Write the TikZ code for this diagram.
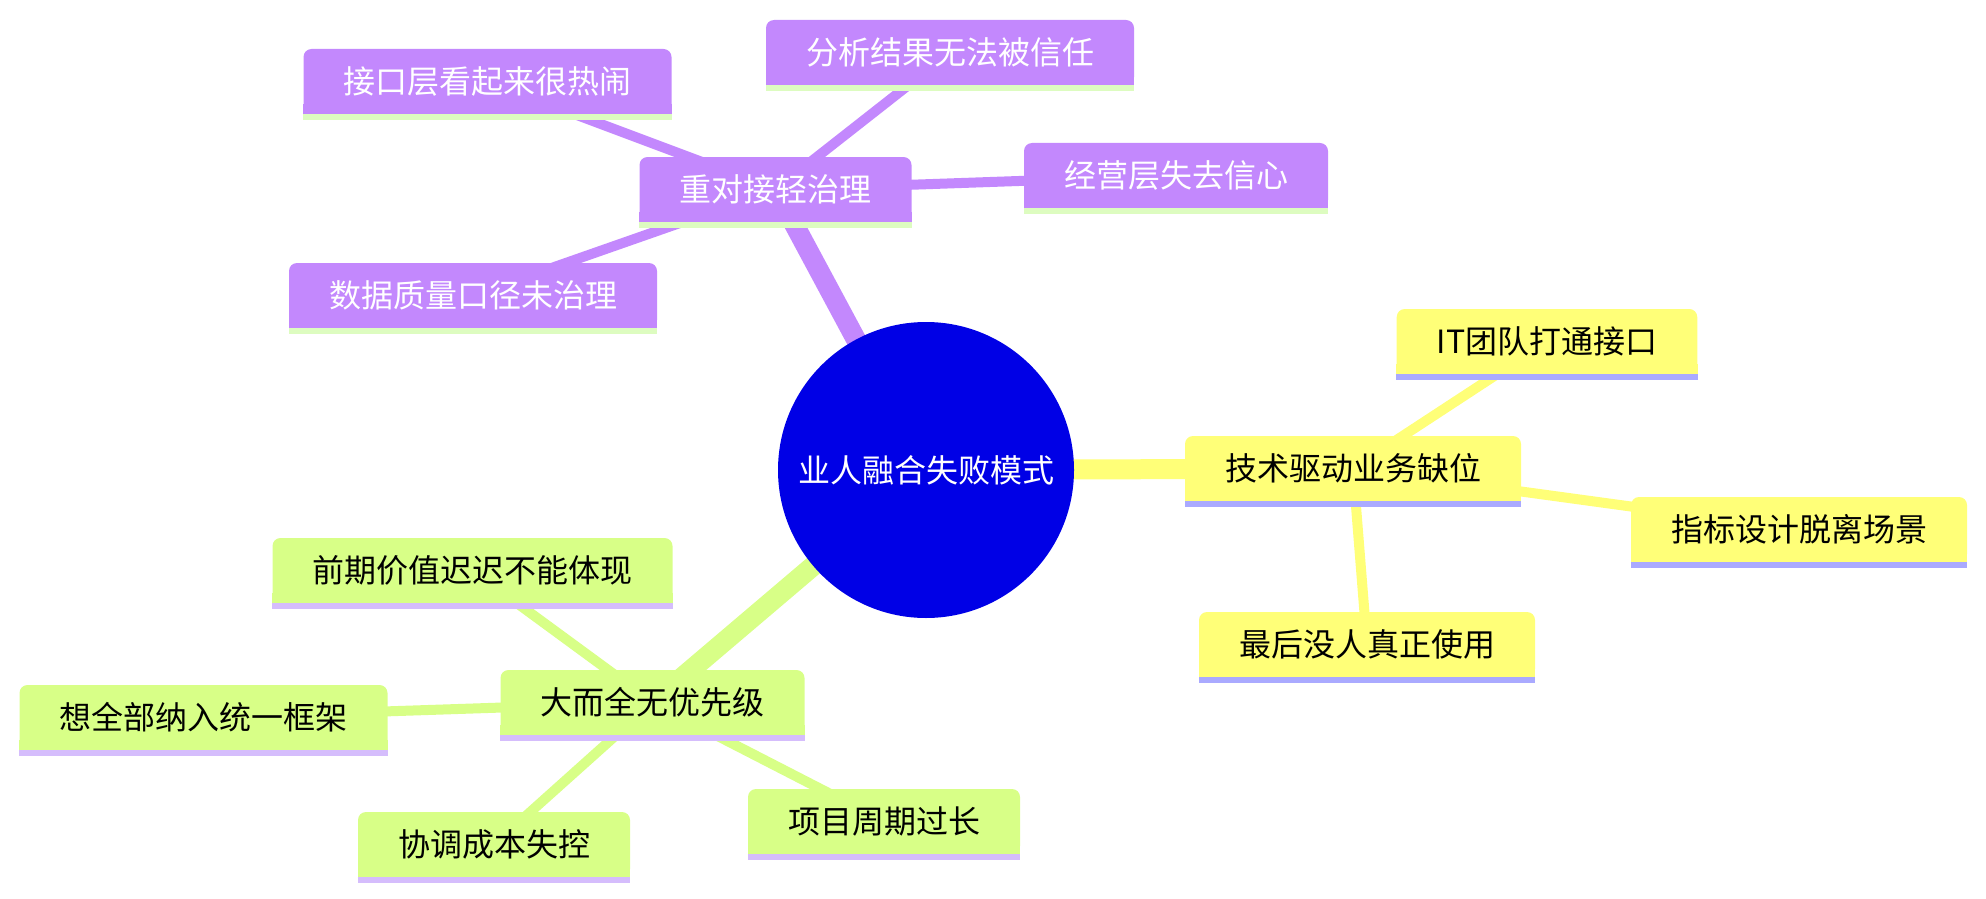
\documentclass[tikz,border=0pt]{standalone}
\usepackage{fontspec}
\setmainfont{Noto Sans CJK SC}
\usetikzlibrary{backgrounds}
\definecolor{purp}{RGB}{195,136,253}
\definecolor{purpul}{RGB}{221,252,192}
\definecolor{yel}{RGB}{255,255,120}
\definecolor{yelul}{RGB}{170,170,255}
\definecolor{grn}{RGB}{216,255,135}
\definecolor{grnul}{RGB}{213,189,252}
\definecolor{ctr}{RGB}{0,0,230}
\newcommand\nbar[3]{%
  \fill[#2] ([yshift=5pt]#1.south west) rectangle (#1.south east);
  \fill[#3] (#1.south west) rectangle ([yshift=-3pt]#1.south east);}
\begin{document}
\begin{tikzpicture}[x=0.5pt,y=-0.5pt,
  box/.style={rectangle, rounded corners=4pt, minimum height=32.5pt, inner xsep=20pt, inner ysep=0pt,
    font=\fontsize{16pt}{19pt}\selectfont},
  pbox/.style={box, fill=purp, text=white},
  ybox/.style={box, fill=yel, text=black},
  gbox/.style={box, fill=grn, text=black},
  mainedge/.style={line width=10pt},
  subedge/.style={line width=5pt}]
\useasboundingbox (0,0) rectangle (1986,899);

\node[circle, fill=ctr, text=white, minimum size=148pt, inner sep=0pt,
  font=\fontsize{16pt}{19pt}\selectfont] (C) at (926,470) {业人融合失败模式};

\node[pbox] (P0) at (775.5,189.5) {重对接轻治理};
\node[pbox] (P1) at (487.5,81.5) {接口层看起来很热闹};
\node[pbox] (P2) at (950,52.5) {分析结果无法被信任};
\node[pbox] (P3) at (1176,175.5) {经营层失去信心};
\node[pbox] (P4) at (473,295.5) {数据质量口径未治理};

\node[ybox] (Y0) at (1353,468.5) {技术驱动业务缺位};
\node[ybox] (Y1) at (1547,341.5) {IT团队打通接口};
\node[ybox] (Y2) at (1799,529.5) {指标设计脱离场景};
\node[ybox] (Y3) at (1367,644.5) {最后没人真正使用};

\node[gbox] (G0) at (652.5,702.5) {大而全无优先级};
\node[gbox] (G1) at (472.5,570.5) {前期价值迟迟不能体现};
\node[gbox] (G2) at (203.5,717.5) {想全部纳入统一框架};
\node[gbox] (G3) at (494,844.5) {协调成本失控};
\node[gbox] (G4) at (884,821.5) {项目周期过长};

\nbar{P0}{purp}{purpul}\nbar{P1}{purp}{purpul}\nbar{P2}{purp}{purpul}
\nbar{P3}{purp}{purpul}\nbar{P4}{purp}{purpul}
\nbar{Y0}{yel}{yelul}\nbar{Y1}{yel}{yelul}\nbar{Y2}{yel}{yelul}\nbar{Y3}{yel}{yelul}
\nbar{G0}{grn}{grnul}\nbar{G1}{grn}{grnul}\nbar{G2}{grn}{grnul}
\nbar{G3}{grn}{grnul}\nbar{G4}{grn}{grnul}

\begin{pgfonlayer}{background}
\draw[mainedge, purp] (C.center) -- (P0.center);
\draw[mainedge, yel] (C.center) -- (Y0.center);
\draw[mainedge, grn] (C.center) -- (G0.center);
\draw[subedge, purp] (P0.center) -- (P1.center);
\draw[subedge, purp] (P0.center) -- (P2.center);
\draw[subedge, purp] (P0.center) -- (P3.center);
\draw[subedge, purp] (P0.center) -- (P4.center);
\draw[subedge, yel] (Y0.center) -- (Y1.center);
\draw[subedge, yel] (Y0.center) -- (Y2.center);
\draw[subedge, yel] (Y0.center) -- (Y3.center);
\draw[subedge, grn] (G0.center) -- (G1.center);
\draw[subedge, grn] (G0.center) -- (G2.center);
\draw[subedge, grn] (G0.center) -- (G3.center);
\draw[subedge, grn] (G0.center) -- (G4.center);
\end{pgfonlayer}
\end{tikzpicture}
\end{document}
